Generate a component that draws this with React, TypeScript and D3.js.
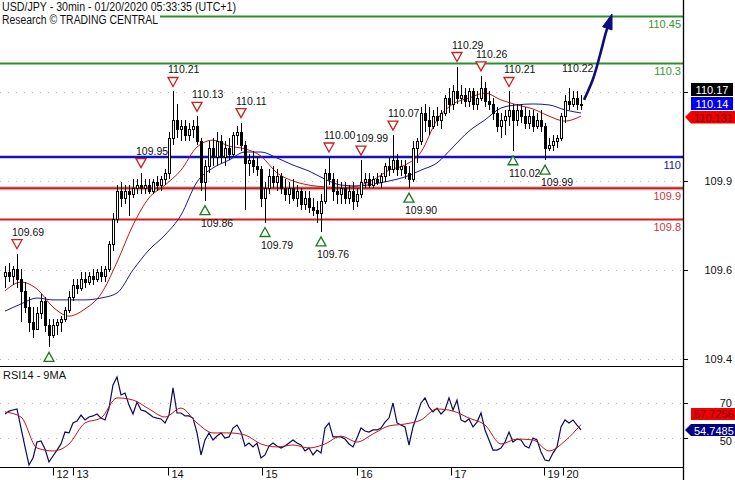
import React from "react";
import * as d3 from "d3";

// ---------- DATA ----------
const opens = [
  109.62, 109.63, 109.62, 109.64, 109.61, 109.57, 109.52, 109.47, 109.45, 109.50,
  109.54, 109.46, 109.43, 109.46, 109.47, 109.48, 109.51, 109.55, 109.59, 109.58,
  109.61, 109.60, 109.62, 109.61, 109.63, 109.62, 109.64, 109.72, 109.80, 109.89,
  109.87, 109.89, 109.88, 109.90, 109.91, 109.90, 109.91, 109.89, 109.92, 109.91,
  109.93, 109.95, 110.06, 110.12, 110.09, 110.10, 110.07, 110.09, 110.10, 110.05,
  109.92, 109.97, 110.03, 110.00, 110.05, 110.00, 110.03, 110.01, 110.07, 110.08,
  110.04, 109.98, 109.99, 109.97, 109.96, 109.87, 109.90, 109.94, 109.92, 109.94,
  109.90, 109.88, 109.90, 109.87, 109.89, 109.85, 109.87, 109.84, 109.83, 109.82,
  109.86, 109.95, 109.93, 109.89, 109.88, 109.90, 109.87, 109.89, 109.86, 109.88,
  109.92, 109.93, 109.91, 109.93, 109.92, 109.94, 109.97, 109.96, 109.99, 109.96,
  109.97, 109.95, 109.93, 110.03, 110.05, 110.14, 110.12, 110.10, 110.13, 110.12,
  110.14, 110.19, 110.17, 110.21, 110.19, 110.20, 110.18, 110.21, 110.17, 110.19,
  110.22, 110.18, 110.17, 110.14, 110.10, 110.12, 110.13, 110.15, 110.12, 110.15,
  110.13, 110.11, 110.13, 110.10, 110.12, 110.10, 110.03, 110.04, 110.05, 110.06,
  110.13, 110.18, 110.17, 110.19, 110.17,
];
const highs = [
  109.65, 109.66, 109.65, 109.69, 109.64, 109.60, 109.55, 109.52, 109.52, 109.56,
  109.55, 109.48, 109.48, 109.48, 109.49, 109.52, 109.57, 109.61, 109.61, 109.63,
  109.63, 109.63, 109.64, 109.64, 109.65, 109.65, 109.73, 109.82, 109.91, 109.92,
  109.91, 109.91, 109.93, 109.93, 109.95, 109.93, 109.93, 109.93, 109.94, 109.94,
  109.96, 110.08, 110.21, 110.17, 110.12, 110.12, 110.11, 110.12, 110.13, 110.06,
  109.99, 110.05, 110.06, 110.08, 110.07, 110.05, 110.06, 110.08, 110.10, 110.11,
  110.05, 110.01, 110.02, 110.00, 109.97, 109.92, 109.96, 109.97, 109.96, 109.95,
  109.93, 109.92, 109.93, 109.91, 109.90, 109.89, 109.89, 109.87, 109.86, 109.88,
  109.96, 110.00, 109.95, 109.93, 109.92, 109.92, 109.91, 109.92, 109.90, 109.99,
  109.95, 109.95, 109.94, 109.95, 109.95, 109.98, 110.00, 110.07, 110.01, 109.99,
  109.99, 109.97, 110.05, 110.06, 110.16, 110.17, 110.16, 110.15, 110.16, 110.15,
  110.20, 110.22, 110.23, 110.29, 110.23, 110.22, 110.22, 110.22, 110.21, 110.26,
  110.24, 110.21, 110.19, 110.16, 110.14, 110.15, 110.21, 110.17, 110.17, 110.17,
  110.16, 110.15, 110.15, 110.14, 110.15, 110.11, 110.06, 110.07, 110.07, 110.14,
  110.20, 110.22, 110.21, 110.21, 110.20,
];
const lows = [
  109.58, 109.60, 109.59, 109.58, 109.47, 109.50, 109.44, 109.42, 109.45, 109.48,
  109.44, 109.39, 109.42, 109.43, 109.44, 109.47, 109.50, 109.54, 109.56, 109.57,
  109.58, 109.59, 109.59, 109.60, 109.60, 109.60, 109.63, 109.70, 109.79, 109.84,
  109.85, 109.81, 109.87, 109.88, 109.88, 109.88, 109.88, 109.88, 109.89, 109.89,
  109.91, 109.93, 110.04, 110.06, 110.05, 110.05, 110.05, 110.06, 110.04, 109.89,
  109.86, 109.95, 109.97, 109.97, 109.98, 109.97, 109.99, 110.00, 110.04, 110.02,
  109.83, 109.94, 109.95, 109.94, 109.84, 109.79, 109.88, 109.90, 109.89, 109.88,
  109.86, 109.85, 109.86, 109.84, 109.83, 109.83, 109.82, 109.81, 109.79, 109.76,
  109.85, 109.91, 109.86, 109.85, 109.85, 109.85, 109.85, 109.83, 109.84, 109.87,
  109.90, 109.90, 109.90, 109.91, 109.90, 109.92, 109.94, 109.95, 109.94, 109.94,
  109.93, 109.90, 109.92, 109.98, 110.04, 110.08, 110.07, 110.09, 110.10, 110.09,
  110.13, 110.14, 110.15, 110.17, 110.17, 110.16, 110.16, 110.15, 110.15, 110.18,
  110.16, 110.15, 110.12, 110.08, 110.06, 110.07, 110.10, 110.02, 110.10, 110.11,
  110.09, 110.09, 110.08, 110.09, 110.08, 109.99, 110.02, 110.02, 110.03, 110.05,
  110.11, 110.15, 110.16, 110.15, 110.15,
];
const closes = [
  109.63, 109.62, 109.64, 109.61, 109.57, 109.52, 109.47, 109.45, 109.50, 109.54,
  109.46, 109.43, 109.46, 109.47, 109.48, 109.51, 109.55, 109.59, 109.58, 109.61,
  109.60, 109.62, 109.61, 109.63, 109.62, 109.64, 109.72, 109.80, 109.89, 109.87,
  109.89, 109.88, 109.90, 109.91, 109.90, 109.91, 109.89, 109.92, 109.91, 109.93,
  109.95, 110.06, 110.12, 110.09, 110.10, 110.07, 110.09, 110.10, 110.05, 109.92,
  109.97, 110.03, 110.00, 110.05, 110.00, 110.03, 110.01, 110.07, 110.08, 110.04,
  109.98, 109.99, 109.97, 109.96, 109.87, 109.90, 109.94, 109.92, 109.94, 109.90,
  109.88, 109.90, 109.87, 109.89, 109.85, 109.87, 109.84, 109.83, 109.82, 109.86,
  109.95, 109.93, 109.89, 109.88, 109.90, 109.87, 109.89, 109.86, 109.88, 109.92,
  109.93, 109.91, 109.93, 109.92, 109.94, 109.97, 109.96, 109.99, 109.96, 109.97,
  109.95, 109.93, 110.03, 110.05, 110.14, 110.12, 110.10, 110.13, 110.12, 110.14,
  110.19, 110.17, 110.21, 110.19, 110.20, 110.18, 110.21, 110.17, 110.19, 110.22,
  110.18, 110.17, 110.14, 110.10, 110.12, 110.13, 110.15, 110.12, 110.15, 110.13,
  110.11, 110.13, 110.10, 110.12, 110.10, 110.03, 110.04, 110.05, 110.06, 110.13,
  110.18, 110.17, 110.19, 110.17, 110.17,
];

// moving averages, one value every 4th bar
const MA_STEP = 4;
const maFast = [
  109.571, 109.599, 109.577, 109.519, 109.490, 109.513, 109.561, 109.663, 109.782, 109.869,
  109.910, 109.958, 110.032, 110.054, 110.035, 110.026, 110.003, 109.949, 109.923, 109.910,
  109.904, 109.901, 109.907, 109.926, 109.958, 109.974, 110.016, 110.119, 110.170, 110.189,
  110.205, 110.183, 110.167, 110.154, 110.131, 110.115, 110.131,
];
const maSlow = [
  109.506, 109.529, 109.548, 109.542, 109.542, 109.542, 109.548, 109.564, 109.638, 109.702,
  109.750, 109.814, 109.920, 109.965, 109.990, 110.016, 110.016, 109.997, 109.974, 109.955,
  109.929, 109.910, 109.907, 109.913, 109.923, 109.936, 109.958, 109.981, 110.032, 110.083,
  110.119, 110.157, 110.167, 110.170, 110.167, 110.151, 110.141,
];

// RSI(14), one value per bar
const rsi = [
  63.7, 65.4, 66.0, 66.6, 55.7, 44.9, 34.6, 38.6, 47.7, 48.3,
  43.7, 36.3, 39.7, 43.1, 46.6, 53.4, 52.9, 58.6, 59.7, 63.1,
  60.3, 62.0, 62.6, 63.7, 61.4, 60.3, 67.1, 80.3, 84.9, 74.6,
  75.7, 68.9, 63.7, 70.6, 66.0, 65.4, 63.7, 62.0, 61.4, 60.9,
  58.6, 63.1, 78.6, 64.3, 64.3, 62.6, 62.6, 61.4, 52.9, 40.3,
  48.9, 52.9, 48.9, 51.1, 52.9, 50.0, 50.6, 55.7, 57.4, 53.4,
  45.4, 47.1, 44.9, 47.1, 38.6, 40.3, 45.4, 47.1, 45.4, 44.3,
  45.4, 47.1, 48.9, 47.1, 46.0, 42.6, 44.3, 40.3, 43.1, 41.4,
  55.7, 58.6, 50.6, 50.6, 50.6, 49.4, 46.6, 44.9, 50.0, 55.7,
  54.0, 53.4, 54.6, 54.6, 55.7, 59.1, 61.4, 70.0, 58.6, 57.4,
  56.3, 46.0, 56.3, 63.1, 70.0, 72.9, 67.7, 64.9, 67.1, 63.7,
  66.0, 72.9, 66.0, 71.7, 60.3, 59.1, 60.9, 56.3, 59.1, 64.3,
  54.6, 48.9, 43.1, 43.1, 44.3, 47.7, 53.4, 47.7, 49.4, 48.9,
  45.4, 44.3, 50.0, 48.9, 42.0, 37.4, 36.9, 41.4, 44.9, 56.3,
  60.3, 58.6, 60.3, 57.4, 54.7,
];
// 9-period MA of RSI, one value every 4th bar
const rsiMa = [
  64.9, 62.0, 44.3, 42.6, 46.6, 58.6, 61.4, 72.9, 71.7, 66.6,
  62.0, 67.1, 58.6, 52.9, 52.9, 51.7, 46.6, 44.9, 46.0, 44.3,
  46.6, 51.1, 47.7, 52.3, 56.9, 58.0, 60.3, 66.6, 65.4, 61.4,
  57.4, 46.6, 49.4, 48.9, 42.6, 48.3, 57.7,
];

// support / resistance levels
const levels = [110.45, 110.3, 110.0, 109.9, 109.8];
const levelLabels = ["110.45", "110.3", "110", "109.9", "109.8"];

// swing highs / lows (bar index)
const highMarkIdx = [3, 34, 42, 48, 59, 81, 89, 97, 113, 119, 126];
const lowMarkIdx = [11, 50, 65, 79, 101, 127, 135];
const lowMarkShowLabel = [false, true, true, true, true, true, true];
const extraHighLabelIdx = [141];

// price axis grid (values at the grid rows) and their labels
const gridVals = [110.208, 109.923, 109.638, 109.353];
const gridLabels = ["", "109.9", "109.6", "109.4"];
const rsiTicks = [70, 50];

// day separators (bar positions) and labels
const dayTickIdx = [12.0, 17.0, 40.75, 64.25, 88.0, 111.5, 134.75, 139.5];
const dayLabels = ["12", "13", "14", "15", "16", "17", "19", "20"];

// projected path (bar index, price)
const arrowIdx = [144.75, 147.0, 148.75, 150.25, 151.75];
const arrowPrice = [110.183, 110.25, 110.327, 110.40, 110.458];

// last values shown on the axis
const lastPrice = "110.17";
const lastSlow = "110.14";
const lastFast = "110.131";
const lastRsiMa = "57.7256";
const lastRsi = "54.7485";

export default function App() {
  const W = 735, H = 480;
  const AX = 683;
  const P_BOTTOM = 366.5, R_BOTTOM = 467.5;
  const font = "'Liberation Sans', Arial, Helvetica, sans-serif";
  const N = closes.length;

  const x = d3.scaleLinear().domain([0, N - 1]).range([5, 581]);
  const y = d3.scaleLinear().domain([109.5, 110.5]).range([313, 1]);
  const yr = d3.scaleLinear().domain([50, 70]).range([438, 403]);

  const maLine = d3
    .line<number>()
    .x((_, k) => x(k * MA_STEP))
    .y((d) => y(d))
    .curve(d3.curveMonotoneX);
  const rsiLine = d3
    .line<number>()
    .x((_, i) => x(i))
    .y((d) => yr(d));
  const rsiMaLine = d3
    .line<number>()
    .x((_, k) => x(k * MA_STEP))
    .y((d) => yr(d))
    .curve(d3.curveMonotoneX);

  const levelColors = ["#2f8f2f", "#2f8f2f", "#1212c0", "#b02828", "#d81c1c"];
  const levelText = ["#3c923c", "#3c923c", "#2020a0", "#c23a3a", "#c23a3a"];

  // arrow geometry
  const pts: [number, number][] = arrowIdx.map((a, k) => [x(a), y(arrowPrice[k])]);
  const tip = pts[pts.length - 1];
  const prev = pts[pts.length - 2];
  const dx = tip[0] - prev[0], dy = tip[1] - prev[1];
  const len = Math.hypot(dx, dy);
  const ux = dx / len, uy = dy / len;
  const headL = 15, headW = 5;
  const base: [number, number] = [tip[0] - ux * headL, tip[1] - uy * headL];
  const linePts = [...pts.slice(0, -1), base];
  const arrowPath = d3.line().curve(d3.curveCatmullRom)(linePts as [number, number][]);
  const head = [
    tip,
    [base[0] - uy * headW, base[1] + ux * headW],
    [base[0] + uy * headW, base[1] - ux * headW],
  ]
    .map((p) => p.join(","))
    .join(" ");

  return (
    <div style={{ position: "fixed", left: 0, top: 0, width: W, height: H, background: "#fff" }}>
      <svg width={W} height={H} style={{ display: "block", fontFamily: font }}>
        <defs>
          <clipPath id="pclip">
            <rect x={0} y={0} width={AX} height={P_BOTTOM} />
          </clipPath>
          <clipPath id="rclip">
            <rect x={0} y={P_BOTTOM} width={AX} height={R_BOTTOM - P_BOTTOM} />
          </clipPath>
        </defs>
        <rect x={0} y={0} width={W} height={H} fill="#fff" />

        {/* price grid */}
        {gridVals.map((v, k) => (
          <line key={"g" + k} x1={0} x2={AX} y1={Math.round(y(v)) + 0.5} y2={Math.round(y(v)) + 0.5}
            stroke="#b8b8b8" strokeDasharray="1 7" />
        ))}
        {rsiTicks.map((v, k) => (
          <line key={"rg" + k} x1={0} x2={AX} y1={Math.round(yr(v)) + 0.5} y2={Math.round(yr(v)) + 0.5}
            stroke="#b8b8b8" strokeDasharray="1 7" />
        ))}

        {/* level lines */}
        <g clipPath="url(#pclip)">
          {levels.map((v, k) => (
            <g key={"l" + k}>
              {k === 3 && (
                <line x1={0} x2={AX} y1={y(v)} y2={y(v)} stroke="#f2c4c4" strokeWidth={4.5} />
              )}
              <line x1={k === 0 ? 160 : 0} x2={AX} y1={y(v)} y2={y(v)} stroke={levelColors[k]}
                strokeWidth={k === 2 ? 2.6 : 2} />
            </g>
          ))}
          {levels.map((v, k) => (
            <text key={"lt" + k} x={AX - 2} y={y(v) + 11.5} textAnchor="end" fontSize={11}
              fill={levelText[k]}>{levelLabels[k]}</text>
          ))}
        </g>

        {/* moving averages */}
        <g clipPath="url(#pclip)" fill="none">
          <path d={maLine(maSlow) || ""} stroke="#1a1a9a" strokeWidth={1} />
          <path d={maLine(maFast) || ""} stroke="#c01818" strokeWidth={1} />
        </g>

        {/* candles */}
        <g shapeRendering="crispEdges">
          {closes.map((c, i) => {
            const o = opens[i];
            const cx = Math.round(x(i));
            const top = Math.round(y(Math.max(o, c)));
            const bot = Math.round(y(Math.min(o, c)));
            const bull = c > o;
            return (
              <g key={"c" + i}>
                <line x1={cx + 0.5} x2={cx + 0.5} y1={y(highs[i])} y2={y(lows[i])} stroke="#000" strokeWidth={1} />
                {bull ? (
                  <rect x={cx - 0.5} y={top + 0.5} width={2} height={Math.max(1, bot - top)}
                    fill="#fff" stroke="#000" strokeWidth={1} />
                ) : (
                  <rect x={cx - 1} y={top} width={3} height={Math.max(2, bot - top + 1)} fill="#000" />
                )}
              </g>
            );
          })}
        </g>

        {/* swing high markers */}
        {highMarkIdx.map((i, k) => {
          const cx = x(i), hy = y(highs[i]);
          return (
            <g key={"hm" + k}>
              <polygon points={`${cx - 5},${hy - 14} ${cx + 5},${hy - 14} ${cx},${hy - 5}`}
                fill="#fff" stroke="#c62020" strokeWidth={1.3} />
              <text x={cx - 5} y={hy - 18} fontSize={10.5} fill="#111">{highs[i].toFixed(2)}</text>
            </g>
          );
        })}
        {extraHighLabelIdx.map((i, k) => (
          <text key={"eh" + k} x={x(i) - 7} y={y(highs[i]) - 16} fontSize={10.5} fill="#111">
            {highs[i].toFixed(2)}
          </text>
        ))}
        {lowMarkIdx.map((i, k) => {
          const cx = x(i), ly = y(lows[i]);
          return (
            <g key={"lm" + k}>
              <polygon points={`${cx - 5},${ly + 14} ${cx + 5},${ly + 14} ${cx},${ly + 5}`}
                fill="#fff" stroke="#1c7a1c" strokeWidth={1.3} />
              {lowMarkShowLabel[k] && (
                <text x={cx - 4} y={ly + 26} fontSize={10.5} fill="#111">{lows[i].toFixed(2)}</text>
              )}
            </g>
          );
        })}

        {/* projection arrow */}
        <path d={arrowPath || ""} fill="none" stroke="#0c0c7a" strokeWidth={2.6} />
        <polygon points={head} fill="#0c0c7a" stroke="#0c0c7a" strokeWidth={1} />

        {/* header */}
        <text x={2} y={11} fontSize={12} fill="#111" textLength={234} lengthAdjust="spacingAndGlyphs">
          USD/JPY - 30min - 01/20/2020 05:33:35 (UTC+1)
        </text>
        <text x={2} y={23.5} fontSize={12} fill="#111" textLength={156} lengthAdjust="spacingAndGlyphs">
          Research © TRADING CENTRAL
        </text>

        {/* panel frames */}
        <line x1={0} x2={AX} y1={P_BOTTOM} y2={P_BOTTOM} stroke="#000" strokeWidth={1.2} />
        <line x1={0} x2={AX} y1={R_BOTTOM} y2={R_BOTTOM} stroke="#000" strokeWidth={1.2} />
        <line x1={AX + 0.5} x2={AX + 0.5} y1={0} y2={H} stroke="#000" strokeWidth={1.3} />

        {/* RSI panel */}
        <text x={3} y={379} fontSize={11} fill="#111">RSI14 - 9MA</text>
        <g clipPath="url(#rclip)" fill="none">
          <path d={rsiLine(rsi) || ""} stroke="#0a0a55" strokeWidth={1.2} />
          <path d={rsiMaLine(rsiMa) || ""} stroke="#c01818" strokeWidth={1} />
        </g>

        {/* price axis */}
        {gridVals.map((v, k) => (
          <g key={"pa" + k}>
            <line x1={AX} x2={AX + 5} y1={Math.round(y(v)) + 0.5} y2={Math.round(y(v)) + 0.5} stroke="#000" />
            {gridLabels[k] && (
              <text x={732} y={y(v) + 4} textAnchor="end" fontSize={11} fill="#111">{gridLabels[k]}</text>
            )}
          </g>
        ))}
        {rsiTicks.map((v, k) => (
          <g key={"ra" + k}>
            <line x1={AX} x2={AX + 5} y1={Math.round(yr(v)) + 0.5} y2={Math.round(yr(v)) + 0.5} stroke="#000" />
            <text x={732} y={yr(v) + (v === 50 ? 7 : 4)} textAnchor="end" fontSize={11} fill="#111">{v}</text>
          </g>
        ))}

        {/* value boxes */}
        <rect x={691} y={83} width={42} height={13} fill="#000" />
        <text x={712} y={94} textAnchor="middle" fontSize={11} fill="#fff">{lastPrice}</text>
        <rect x={691} y={97} width={42} height={13} fill="#0000f0" />
        <text x={712} y={108} textAnchor="middle" fontSize={11} fill="#fff">{lastSlow}</text>
        <polygon points="685,117 691,111 735,111 735,123.5 691,123.5" fill="#f00000" />
        <text x={694} y={121.5} fontSize={11} fill="#800000">{lastFast}</text>

        <rect x={691} y={408} width={44} height={12} fill="#f00000" />
        <text x={694} y={418} fontSize={11} fill="#800000">{lastRsiMa}</text>
        <polygon points="685,430 691,424 735,424 735,436 691,436" fill="#000080" />
        <text x={694} y={434.5} fontSize={11} fill="#fff">{lastRsi}</text>

        {/* day axis */}
        {dayTickIdx.map((d, k) => {
          const tx = Math.round(x(d)) + 0.5;
          return (
            <g key={"d" + k}>
              <line x1={tx} x2={tx} y1={R_BOTTOM} y2={R_BOTTOM + 8} stroke="#000" />
              <text x={tx + 3} y={478} fontSize={11} fill="#111">{dayLabels[k]}</text>
            </g>
          );
        })}
      </svg>
    </div>
  );
}
